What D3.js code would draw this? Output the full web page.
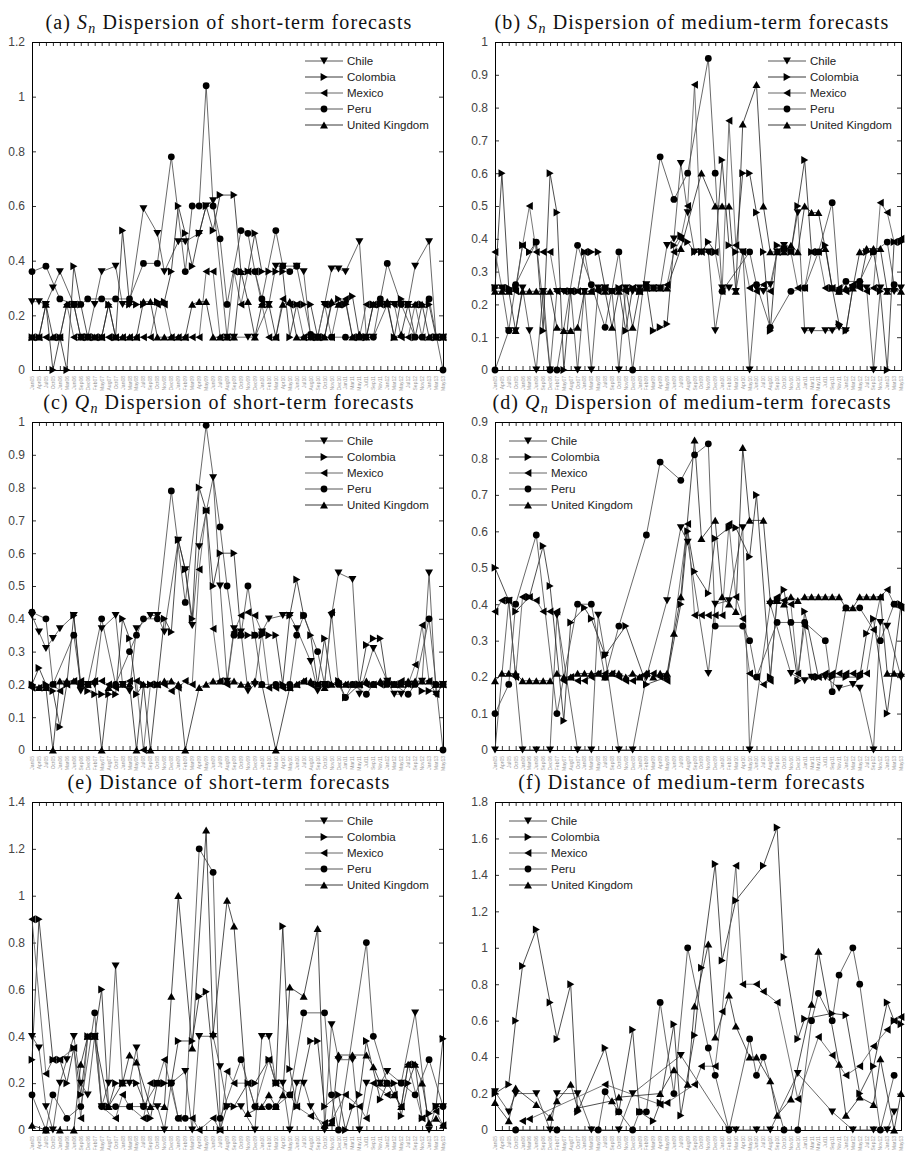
<!DOCTYPE html>
<html><head><meta charset="utf-8">
<script src="https://cdn.jsdelivr.net/npm/d3@7"></script>
<style>body{margin:0;background:#fff}</style>
</head><body>
<svg id="c" width="905" height="1168"></svg>
<script>
const dates = ["Jan05","Apr05","Jul05","Oct05","Jan06","Mar06","Jun06","Sep06","Dec06","Feb07","May07","Aug07","Oct07","Jan08","Mar08","May08","Jul08","Sep08","Oct08","Nov08","Dec08","Jan09","Feb09","Mar09","Apr09","May09","Jun09","Jul09","Aug09","Sep09","Oct09","Nov09","Dec09","Jan10","Feb10","Mar10","Apr10","May10","Jun10","Jul10","Aug10","Sep10","Oct10","Nov10","Dec10","Jan11","Mar11","May11","Jul11","Sep11","Nov11","Jan12","Mar12","May12","Jul12","Sep12","Nov12","Jan13","Mar13","May13"];
const countries = ["Chile","Colombia","Mexico","Peru","United Kingdom"];
const symbols = ["down","right","left","circle","up"];

// (a) Sn short-term
const aChile = [0.25,0.25,0.24,0.30,0.36,null,0.24,0.12,0.12,0.24, 0.36,null,0.38,0.24,0.24,null,0.59,null,0.50,0.36, null,0.47,0.47,null,0.50,0.60,0.62,null,0.12,0.12, null,0.12,0.12,null,0.24,0.38,0.38,null,0.38,0.36, 0.12,0.12,0.24,0.37,0.37,0.36,null,0.47,0.12,0.12, null,0.24,0.24,0.24,0.24,0.38,null,0.47,0.12,0.12];
const aColombia = [0.12,0.12,0.24,0,0.12,0,0.38,0.24,0.12,0.12, 0.12,0.24,0.12,0.51,0.24,0.24,0.24,null,0.25,0.25, 0.36,0.60,0.50,0.38,0.50,0.60,0.51,0.64,null,0.64, 0.36,0.36,0.50,0.36,0.36,0.36,0.36,0.12,0.24,0.24, 0.24,0.12,0.12,0.24,0.26,0.24,0.27,0.12,0.12,0.24, 0.24,0.24,0.12,0.26,0.24,0.12,0.24,0.24,0.12,0.12];
const aMexico = [0.12,0.12,0.12,0.12,0.12,0.24,0.12,0.12,0.12,0.12, 0.12,0.12,0.12,0.12,0.12,0.12,0.12,0.12,0.24,0.24, 0.12,0.12,0.12,0.12,0.12,0.36,0.36,0.12,0.12,0.36, 0.24,0.36,0.36,0.24,0.12,0.12,0.26,0.24,0.24,0.12, 0.12,0.12,0.24,0.12,0.24,0.26,0.12,0.12,0.24,0.24, 0.24,0.24,0.24,0.12,0.12,0.24,0.12,0.12,0.12,0.12];
const aPeru = [0.36,null,0.38,null,0.26,null,0.24,0.24,0.26,null, 0.26,null,0.26,null,0.26,null,0.39,null,0.39,null, 0.78,null,0.36,0.60,0.60,1.04,0.60,0.48,0.24,null, 0.51,0.50,0.36,0.26,null,0.51,0.38,0.36,0.38,null, 0.13,0.12,null,0.12,null,0.12,null,0.12,null,0.12, 0.26,0.39,null,0.24,null,0.12,0.12,0.26,null,0];
const aUK = [0.12,0.12,0.24,0.12,0.12,0.24,0.24,0.12,0.12,0.12, 0.12,0.24,0.12,0.12,0.12,0.12,0.25,0.25,0.12,0.12, 0.12,0.12,0.12,0.24,0.25,0.25,0.12,0.12,0.12,0.12, 0.36,0.25,0.12,0.24,0.24,0.12,0.24,0.25,0.12,0.12, 0.12,0.12,0.12,0.25,0.24,0.25,0.12,0.13,0.12,0.24, 0.25,0.25,0.12,0.13,0.24,0.24,0.24,0.12,0.12,0.12];

// (b) Sn medium-term
const bChile = [0.25,0.25,0.12,0.12,0.25,0.12,0,0.24,0,0.24, 0.24,0.24,0,0.24,0,0.25,0.25,0.24,0,0.25, 0.24,0.25,0.26,0.25,0.25,0.38,0.40,0.63,0.48,0.36, 0.36,0.36,0.12,0.25,0.25,0.24,0.36,0,0.25,0.24, 0.26,0.36,0.38,0.36,0.48,0.12,0.12,null,0.12,0.12, 0.13,0.12,0.25,0.26,0.25,0,0.25,0.24,0.24,0.25];
const bColombia = [0.25,0.60,0.25,0.25,0.38,0.36,0.39,0.12,0.60,0.48, 0,0.24,0.24,0.36,0.36,0.36,0.25,0.24,0.25,0.12, 0.25,0.24,0.26,0.12,0.13,0.14,0.38,0.41,0.39,0.36, 0.36,0.39,0.36,0.64,0.38,0.36,0.60,0.60,0.48,0.36, 0.12,0.38,0.37,0.36,0.50,0.64,0.36,0.36,0.38,0.25, 0.14,0.12,0.25,0.26,0.36,0.36,0.24,0,0.39,0.39];
const bMexico = [0.36,0.25,0.24,0.24,0.38,0.50,0.36,0.36,0.36,0.24, 0.24,0.24,0.24,0.36,0.24,0.24,0.25,0.24,0.25,0.24, 0.25,0.24,0.25,0.25,0.25,0.26,0.36,0.40,0.50,0.87, 0.36,0.36,0.36,0.24,0.76,0.38,0.36,0.25,0.24,0.26, 0.24,0.36,0.37,0.36,0.25,0.25,0.36,0.36,0.25,0.25, 0.25,0.24,0.26,0.25,0.24,0.25,0.51,0.48,0.39,0.40];
const bPeru = [0,null,0.12,0.26,null,null,0.39,null,0,0, null,null,0.38,null,0.26,null,0.13,null,0.36,null, 0,null,null,null,0.65,null,0.52,null,0.60,null, null,0.95,0.60,0.24,null,null,null,0.36,0.26,null, 0.13,null,null,0.24,null,0.25,null,0.36,null,0.51, 0.24,0.27,null,0.27,null,0.36,null,0.39,0.26,null];
const bUK = [0.24,0.24,0.24,0.12,0.24,0.24,0.24,0.24,0.24,0.13, 0.12,0.12,0.13,0.24,0.24,0.25,0.24,0.13,0.24,0.25, 0.13,0.24,0.25,0.25,0.25,0.25,null,0.37,null,null, 0.60,null,0.50,0.50,0.50,0.24,0.75,null,0.87,0.50, 0.36,0.36,0.36,0.38,0.36,0.50,0.48,0.48,0.37,0.25, 0.24,0.25,0.25,0.36,0.37,0.37,0.37,0.24,0.25,0.24];

// (c) Qn short-term
const cChile = [0.41,0.36,0.31,0.34,0.37,null,0.41,0.18,0.20,0.20, 0.37,null,0.41,0.20,0.18,0.37,null,0.41,0.41,0.36, null,0.64,0.55,0.38,0.62,null,0.83,0.50,0.21,0.37, 0.36,0.18,0.20,0.36,0.40,null,0.41,0.41,0.37,null, 0.27,0.18,0.20,0.41,0.54,null,0.52,0.17,null,0.31, null,0.21,0.17,0.17,0.20,null,0.21,0.54,0.17,0.20];
const cColombia = [0.20,0.25,0.20,0.18,0.07,0.20,0.41,0.20,0.18,0.17, 0.17,0.17,0.17,0.40,0.34,0.17,0.20,0.20,0.20,0.40, 0.36,0.64,0.55,0.40,0.80,0.73,0.50,0.60,null,0.60, 0.35,0.35,0.35,0.35,0.35,0.35,0.20,0.41,0.52,0.41, 0.35,0.20,0.34,0.20,0.21,0.16,null,0.20,0.32,0.34, 0.34,0.20,0.20,0.20,0.20,0.20,0.18,0.18,0.20,0.20];
const cMexico = [0.19,0.19,0.19,0.20,0.18,0.20,0.21,0.21,0.20,0.21, 0.21,0.20,0.19,0.20,0.21,0.21,0,0.20,0.20,0.20, 0.18,0.19,0.21,0.20,0.55,0.73,0.37,0.21,0.20,0.36, 0.41,0.42,0.41,0.36,0.19,0.19,0.19,0.19,0.20,0.21, 0.20,0.20,0.20,0.42,0.20,0.20,0.20,0.20,0.20,0.20, 0.20,0.21,0.20,0.21,0.20,0.26,0.38,0.21,0.17,0.20];
const cPeru = [0.42,null,0.40,0.20,null,null,0.35,0.20,0.20,null, 0.40,null,0.20,null,0.30,0.35,0.40,null,0.40,null, 0.79,null,0.45,null,null,0.99,null,0.68,0.50,0.35, 0.35,0.50,0.35,0.20,null,0.20,null,0.20,0.35,0.41, null,0.30,0.20,null,0.20,0.16,0.20,null,0.17,0.20, null,0.20,0.20,null,0.17,0.20,null,0.40,0.20,0];
const cUK = [0.20,0.19,0.19,0,0.21,0.21,0.21,0.20,0.20,0.21, 0,0.19,0.20,0.20,0.20,0,0.20,0,0.20,0.21, 0.21,0.20,0,null,0.19,0.20,0.21,0.21,0.21,0.21, 0.20,0.20,0.21,0.20,null,0,null,0.19,0.20,0.21, 0.21,0.20,0.19,0.20,0.21,0.20,0.20,0.20,0.21,0.20, 0.21,0.21,0.20,0.20,0.21,0.21,0.21,0.21,0.20,0.20];

// (d) Qn medium-term
const dChile = [0,null,0.41,0.20,0,null,0,null,0,0.37, null,null,0,null,0,0.37,0.26,null,0,null, 0,null,0.20,null,null,0.41,null,0.61,0.57,null, null,0.21,0.40,null,0.41,null,0.61,0,null,null, 0.40,null,null,0.21,null,0.19,0.20,null,0.20,null, 0.17,null,0.18,0.17,null,0,0.35,0.34,null,0.20];
const dColombia = [0.50,null,0.41,0.38,null,0.42,null,0.56,0.45,null, 0.08,0.35,null,0.39,0.36,null,0.26,null,null,0.34, null,null,0.18,null,null,0.20,null,0.40,0.60,0.49, null,0.43,0.58,null,0.61,0.61,null,0.53,0.70,null, 0.20,0.41,0.44,null,0.19,0.38,null,0.20,null,0.20, null,0.20,null,0.20,0.32,0.36,null,0.10,null,0.40];
const dMexico = [0.38,0.41,0.41,0.20,0.42,0.42,0.41,0.38,0.38,0.38, 0.19,0.20,0.19,0.19,0.20,0.21,0.21,0.21,0.20,0.19, 0.19,0.20,0.21,0.21,0.20,0.19,null,null,0.62,0.37, 0.37,0.37,0.37,0.37,0.62,0.42,0.36,0.21,0.20,0.18, 0.19,0.42,0.41,0.40,0.21,0.34,0.20,0.20,0.21,0.21, 0.21,0.21,0.21,0.21,0.21,0.33,0.42,0.44,0.40,0.39];
const dPeru = [0.10,null,0.18,0.40,null,null,0.59,null,null,0.10, null,null,0.40,null,0.40,null,0.20,null,0.34,null, null,null,0.59,null,0.79,null,null,0.74,null,0.81, null,0.84,0.34,null,null,null,0.34,0.30,0.20,null, null,0.35,null,0.35,null,0.35,null,null,0.30,0.16, null,0.39,null,0.39,null,null,0.30,null,0.40,null];
const dUK = [0.19,0.21,0.21,0.21,0.19,0.19,0.19,0.19,0.19,0.21, 0.20,0.20,0.21,0.21,0.21,0.21,0.20,0.21,0.21,0.20, 0.21,0.20,0.21,0.20,0.21,0.21,0.32,0.42,null,0.85, 0.58,null,0.63,0.42,0.40,0.38,0.83,0.63,null,0.63, 0.41,0.41,0.40,0.42,0.41,0.42,0.42,0.42,0.42,0.42, 0.42,0.39,0.39,0.42,0.42,0.42,0.42,0.21,0.21,0.21];

// (e) distance short-term
const eChile = [0.40,0.35,0.10,0,0.20,0.30,0.40,0.20,0.15,0.40, 0.10,0.20,0.70,0.20,0.20,0.35,0.10,null,0.10,0, 0.20,null,0.25,0,0.40,null,0.40,0.27,0.10,null, 0.10,null,0,0.40,0.40,0.20,0.20,0,0.20,0.20, 0.10,null,0,0.45,0.30,null,0.30,0,0.20,null, 0.20,0.25,null,0.20,null,0.50,null,0,0.10,0.10];
const eColombia = [0.30,0.90,null,0.30,0.30,0.20,0.35,0.15,0.40,0.40, 0.60,0.10,0.20,0.20,null,0.20,null,0.05,0.20,0.20, 0.20,0.38,null,0.38,0.57,0.59,null,0,0.10,0.10, null,0.20,0.20,null,0.30,0.20,0.87,0.26,0.10,null, 0.38,0.38,0.10,null,0.15,0,0.10,0.15,0.38,null, 0.13,0.20,0.20,0.06,0.20,0.28,0.05,0.07,0.10,0.39];
const eMexico = [0.90,null,0.24,0.30,0.30,null,0.35,0.05,0.40,0.40, 0.10,null,0.05,0.15,0.10,null,0.05,0.20,0.20,0.30, null,0.05,null,0.05,0,null,0.05,0,0.25,0.20, null,0.20,0.10,null,0.30,0.20,null,0.15,0.10,null, 0.06,null,0.03,0.04,null,0.15,null,0.10,0.05,0.20, null,0.15,0.15,0.10,0.28,null,0.05,null,0.08,0.02];
const ePeru = [0.15,null,0,0.15,null,0.05,null,0.10,null,0.50, 0.10,null,0.10,null,0.10,null,0.10,null,0.20,null, 0.20,0.05,0.05,null,1.20,null,1.10,0.05,null,null, 0.30,null,0.10,null,0.10,0.10,null,0.15,null,0.50, null,null,0.50,0.15,0,null,null,null,0.80,0.40, null,0.20,null,0.20,null,0.15,null,0.30,null,0.10];
const eUK = [0.02,null,0,null,0,null,0,0.28,0.40,0.40, null,0.10,null,0.20,0.32,0.29,null,0.10,null,0.10, 0.57,1.00,null,0.35,null,1.28,0.41,null,0.98,0.87, null,0.07,null,0.10,0.15,0.10,0.15,0.61,null,0.57, null,0.86,0.02,0.03,0.32,null,0.32,null,0.32,0.27, 0.20,0.20,0.15,0.10,0.28,0.28,0.20,0.03,0.05,0.02];

// (f) distance medium-term
const fChile = [0.21,null,0.10,0.20,null,null,0.20,null,0,0.20, null,null,0.20,null,0,null,null,null,0,null, 0.20,null,null,null,null,null,null,0.41,null,null, null,null,null,null,0,0,null,null,0,null, 0,null,null,null,0.31,null,null,null,null,0.10, null,null,0,null,null,0,null,0,0.10,null];
const fColombia = [0.20,null,0.25,0.60,0.90,null,1.10,null,0.70,0.50, null,0.80,0.10,null,null,null,0.45,null,0.10,null, 0.55,0.10,null,0.05,0.15,null,0.58,0.08,null,0.52, 0.89,null,1.46,0.93,null,1.26,null,null,null,1.45, null,1.66,0.95,null,0.50,0.61,null,null,null,0.64, null,0.63,null,0.20,null,0.35,null,0.70,0.60,0.58];
const fMexico = [null,null,null,null,0.05,0.06,null,null,null,null, null,null,null,null,null,null,0.25,null,null,null, null,null,null,null,0.14,0.15,null,null,null,0.25, 0.35,null,0.35,0.65,null,1.45,0.80,null,0.80,0.76, null,0.70,null,null,0.17,null,null,0.51,null,0.41, null,0.30,null,0.35,null,0.46,null,0.55,0.60,0.62];
const fPeru = [null,null,null,0,null,null,null,null,null,0, null,null,null,null,null,0,0.21,null,0.10,null, 0,0.10,0.10,null,0.70,null,0.20,null,1.00,null, null,0.45,0.30,null,0,null,null,0.50,0.30,0.40, null,null,0,null,0,null,0.60,0.75,null,0.60, 0.85,null,1.00,0.80,null,null,0,null,0.30,null];
const fUK = [0.15,null,0.05,0.23,null,null,0.14,null,0.07,0.16, null,0.25,0.12,null,null,null,null,0.16,0.18,null, null,null,null,null,0.20,null,0.33,null,0.25,0.68, null,1.02,0.51,null,0.74,0.57,null,0.40,0.40,null, 0.27,0.08,null,0.17,null,null,0.69,0.98,null,null, 0.36,0.08,null,0.18,null,0.14,0.39,null,0,0.20];

const titlePrefix = ["(a) ","(b) ","(c) ","(d) ","(e) ","(f) "];
const titleSym = ["S","S","Q","Q",null,null];
const titleRest = ["Dispersion of short-term forecasts","Dispersion of medium-term forecasts","Dispersion of short-term forecasts","Dispersion of medium-term forecasts","Distance of short-term forecasts","Distance of medium-term forecasts"];
const yMaxes = [1.2,1,1,0.9,1.4,1.8];
const ySteps = [0.2,0.1,0.1,0.1,0.2,0.2];
const legendLeft = [false,false,false,true,false,true];

const panelSeries = [
  [aChile,aColombia,aMexico,aPeru,aUK],
  [bChile,bColombia,bMexico,bPeru,bUK],
  [cChile,cColombia,cMexico,cPeru,cUK],
  [dChile,dColombia,dMexico,dPeru,dUK],
  [eChile,eColombia,eMexico,ePeru,eUK],
  [fChile,fColombia,fMexico,fPeru,fUK]
];

const svg = d3.select("#c");
const H = 328;
const colX = [32, 495];
const colW = [411, 406];
const rowY = [42, 422, 802];
const lineCols = ["#444","#222","#555","#444","#222"];

const sym = {
  down: "M-4,-3.4L4,-3.4L0,3.6Z",
  up: "M-4,3.4L4,3.4L0,-3.6Z",
  right: "M-3.4,-4L-3.4,4L3.6,0Z",
  left: "M3.4,-4L3.4,4L-3.6,0Z"
};
function marker(g, type, x, y) {
  if (type === "circle") g.append("circle").attr("cx", x).attr("cy", y).attr("r", 3.4).attr("fill", "#000");
  else g.append("path").attr("d", sym[type]).attr("transform", `translate(${x},${y})`).attr("fill", "#000");
}

panelSeries.forEach((series, p) => {
  const x0 = colX[p % 2], y0 = rowY[Math.floor(p / 2)];
  const W = colW[p % 2];
  const g = svg.append("g").attr("transform", `translate(${x0},${y0})`);
  const x = d3.scalePoint().domain(dates).range([0, W]).padding(0);
  const y = d3.scaleLinear().domain([0, yMaxes[p]]).range([H, 0]);
  const yt = d3.range(0, yMaxes[p] + 1e-9, ySteps[p]).map(v => +v.toFixed(2));

  const yl = g.append("g").call(d3.axisLeft(y).tickValues(yt).tickSize(-4).tickPadding(7).tickFormat(d => String(d)));
  const yr = g.append("g").attr("transform", `translate(${W},0)`).call(d3.axisRight(y).tickValues(yt).tickSize(-4).tickFormat(""));
  const xb = g.append("g").attr("transform", `translate(0,${H})`).call(d3.axisBottom(x).tickSize(-4).tickPadding(3));
  const xt = g.append("g").call(d3.axisTop(x).tickSize(-4).tickFormat(""));
  [yl, yr, xb, xt].forEach(a => { a.select(".domain").attr("stroke", "#000").attr("stroke-width", 1); a.selectAll(".tick line").attr("stroke", "#000").attr("stroke-width", 0.8); });
  yl.selectAll(".tick text").attr("font-family", "Liberation Sans, Arial, sans-serif").attr("font-size", 12).attr("fill", "#444");
  xb.selectAll(".tick text").attr("font-family", "Liberation Sans, Arial, sans-serif").attr("font-size", 5).attr("fill", "#999")
    .attr("text-anchor", "end").attr("dx", "-3").attr("dy", "0.3em").attr("x", 0).attr("y", 0)
    .attr("transform", "translate(0,3) rotate(-90)");

  series.forEach((vals, s) => {
    const pts = vals.map((v, i) => [i, v]).filter(d => d[1] !== null && d[1] !== undefined && d[0] < dates.length);
    const line = d3.line().x(d => x(dates[d[0]])).y(d => y(d[1]));
    g.append("path").datum(pts).attr("d", line).attr("fill", "none").attr("stroke", lineCols[s]).attr("stroke-width", 0.8);
  });
  series.forEach((vals, s) => {
    const mg = g.append("g");
    vals.forEach((v, i) => { if (v !== null && i < dates.length) marker(mg, symbols[s], x(dates[i]), y(v)); });
  });

  const lx = legendLeft[p] ? 14 : 273;
  const lg = g.append("g").attr("transform", `translate(${lx},19)`);
  countries.forEach((c, s) => {
    const yy = s * 16;
    lg.append("line").attr("x1", 0).attr("x2", 38).attr("y1", yy).attr("y2", yy).attr("stroke", lineCols[s]).attr("stroke-width", 0.9);
    marker(lg, symbols[s], 19, yy);
    lg.append("text").attr("x", 42).attr("y", yy + 4).text(c).attr("font-family", "Liberation Sans, Arial, sans-serif").attr("font-size", 11.5).attr("fill", "#222");
  });

  const t = g.append("text").attr("x", 205 - 8).attr("y", -13).attr("text-anchor", "middle")
    .attr("font-family", "Liberation Serif, Times New Roman, serif").attr("font-size", 20).attr("letter-spacing", 1.1).attr("fill", "#111");
  t.append("tspan").text(titlePrefix[p]);
  if (titleSym[p]) {
    t.append("tspan").attr("font-style", "italic").text(titleSym[p]);
    t.append("tspan").attr("font-style", "italic").attr("font-size", 14).attr("dy", 4).text("n");
    t.append("tspan").attr("dy", -4).text(" " + titleRest[p]);
  } else {
    t.append("tspan").text(titleRest[p]);
  }
});
</script>
</body></html>
